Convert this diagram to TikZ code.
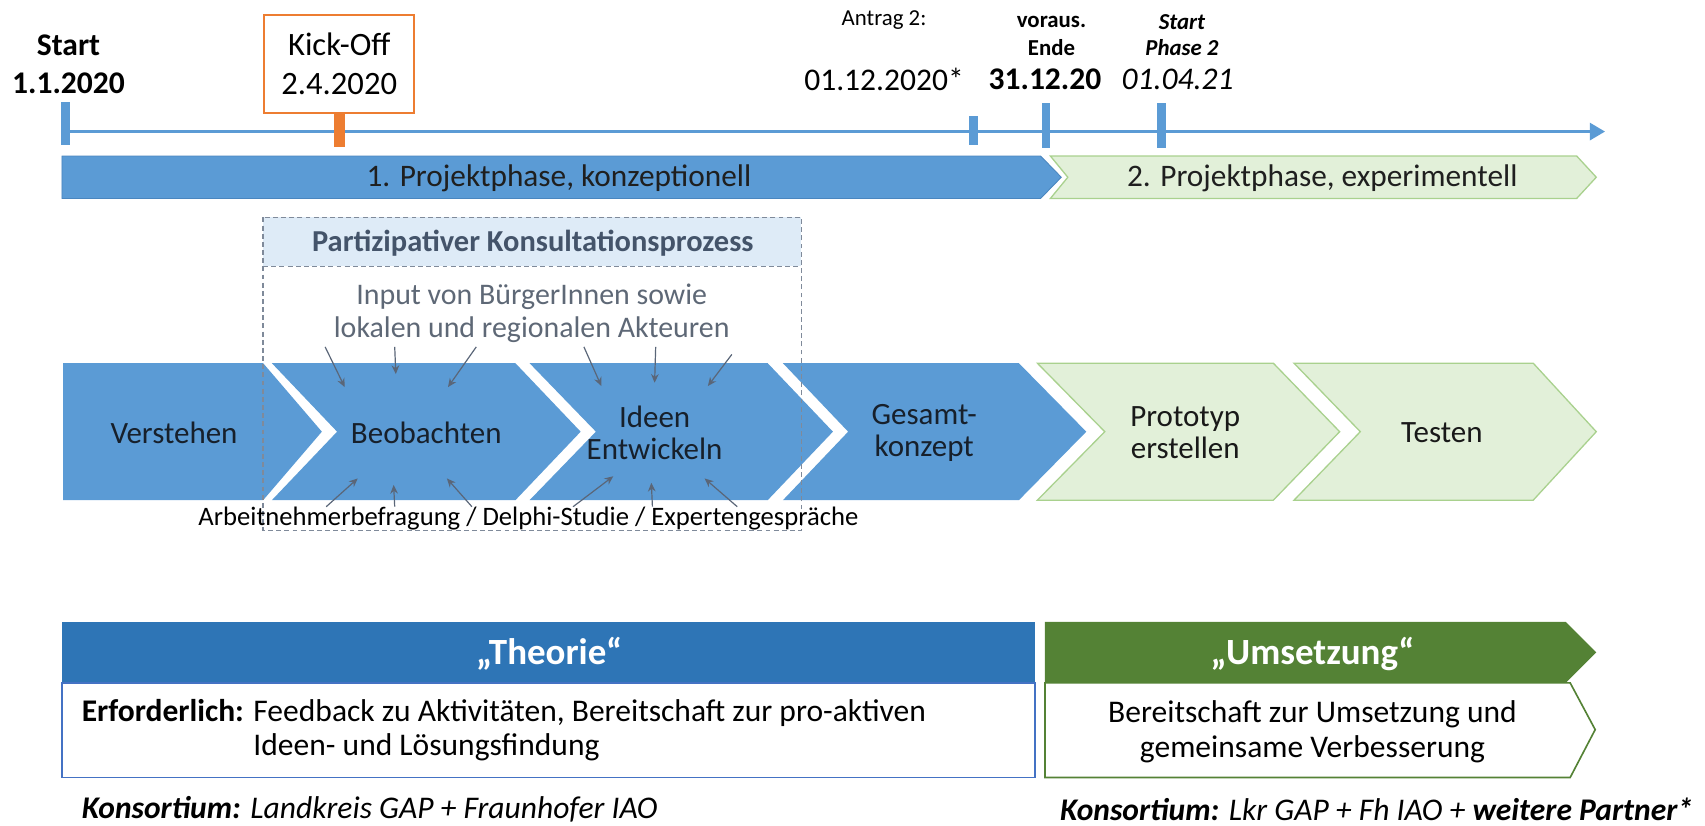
\documentclass[tikz,border=0pt]{standalone}
\usepackage{fontspec}
\setmainfont{Carlito}
\usetikzlibrary{arrows.meta}
\definecolor{tlblue}{HTML}{5B9BD5}
\definecolor{tlbluedark}{HTML}{4A86BF}
\definecolor{korange}{HTML}{ED7D31}
\definecolor{chevgreen}{HTML}{E2F0D9}
\definecolor{chevgreenline}{HTML}{A9D18E}
\definecolor{hdrblue}{HTML}{2E75B6}
\definecolor{bodyblue}{HTML}{4472C4}
\definecolor{hdrgreen}{HTML}{548235}
\definecolor{partfill}{HTML}{DEEBF7}
\definecolor{parttext}{HTML}{44546A}
\definecolor{graytext}{HTML}{5E6876}
\definecolor{arrowgray}{HTML}{5A6678}
\definecolor{dashgray}{HTML}{7F8A9A}
\definecolor{labeltext}{HTML}{17202B}
\tikzset{
  txt/.style={inner sep=0pt, align=center, text=black},
  big/.style={font=\fontsize{29}{35}\selectfont},
  small/.style={font=\fontsize{21}{25}\selectfont},
  tickmark/.style={fill=tlblue, inner sep=0pt, minimum width=8pt},
  phaseA/.style={fill=tlblue, draw=tlbluedark, line width=0.8pt},
  phaseB/.style={fill=chevgreen, draw=chevgreenline, line width=1.2pt},
  chevA/.style={fill=tlblue, draw=none},
  chevB/.style={fill=chevgreen, draw=chevgreenline, line width=1.2pt},
  chevlabel/.style={txt, text=labeltext, font=\fontsize{28.5}{30}\selectfont},
  inarrow/.style={draw=arrowgray, line width=1.1pt, -{Stealth[length=8pt,width=7pt]}},
  dashbox/.style={draw=dashgray, line width=1.2pt, dash pattern=on 4.5pt off 3pt},
}
\begin{document}
\begin{tikzpicture}[x=1pt,y=-1pt]
\useasboundingbox (0,0) rectangle (1568,759);

% ---------- timeline ----------
\coordinate (tlstart) at (64,121);
\coordinate (tlend) at (1476,121);
\draw[tlblue, line width=2pt, -{Triangle[length=14pt,width=16pt]}] (tlstart) -- (tlend);

\node[tickmark, minimum height=39pt] (tstart) at (60,113.5) {};
\node[txt, font=\fontsize{29}{35}\selectfont\bfseries] (lstart) at (63,59) {Start\\1.1.2020};

\node[draw=korange, line width=1.5pt, fill=white, minimum width=138pt, minimum height=90pt, align=center, inner sep=0pt, font=\fontsize{30}{35}\selectfont] (kick) at (312,59) {Kick-Off\\[1pt]2.4.2020};
\node[fill=korange, minimum width=10pt, minimum height=30pt, inner sep=0pt, anchor=north] (ktick) at (kick.south) {};

\node[txt, small] (antrag) at (813,18) {Antrag 2:};
\node[txt, big] (dantrag) at (813,73) {01.12.2020*};
\node[tickmark, minimum height=26pt] (tantrag) at (895,120) {};

\node[txt, font=\fontsize{21}{25}\selectfont\bfseries] (ende) at (967,33) {voraus.\\Ende};
\node[txt, font=\fontsize{29}{35}\selectfont\bfseries] (dende) at (961,73) {31.12.20};
\node[tickmark, minimum height=41pt] (tende) at (962,115.5) {};

\node[txt, font=\fontsize{21}{24}\selectfont\bfseries\itshape] (sp2) at (1087,32) {Start\\Phase 2};
\node[txt, font=\fontsize{29}{35}\selectfont\itshape] (dsp2) at (1083,73) {01.04.21};
\node[tickmark, minimum height=41pt] (tsp2) at (1068,115.5) {};

% ---------- phase bars ----------
\path[phaseA] (57,143.5) -- (957,143.5) -- (976,163) -- (957,182.5) -- (57,182.5) -- cycle;
\path[phaseB] (966,143.5) -- (1450,143.5) -- (1468,163) -- (1450,182.5) -- (966,182.5) -- (982,163) -- cycle;
\node[txt, text=black!88, font=\fontsize{28.8}{30}\selectfont] (ph1) at (514,164) {1. Projektphase, konzeptionell};
\node[txt, text=black!88, font=\fontsize{28.8}{30}\selectfont] (ph2) at (1216,164) {2. Projektphase, experimentell};

% ---------- participation header ----------
\fill[partfill] (242,200) rectangle (737,245);

% ---------- chevrons ----------
\path[chevA] (58,334) -- (242,334) -- (296,397) -- (242,460) -- (58,460) -- cycle;
\path[chevA] (250,334) -- (474,334) -- (534,397) -- (474,460) -- (250,460) -- (310,397) -- cycle;
\path[chevA] (487,334) -- (706,334) -- (766,397) -- (706,460) -- (487,460) -- (548,397) -- cycle;
\path[chevA] (720,334) -- (937,334) -- (999,397) -- (937,460) -- (720,460) -- (780,397) -- cycle;
\path[chevB] (954,334) -- (1171,334) -- (1232,397) -- (1171,460) -- (954,460) -- (1016,397) -- cycle;
\path[chevB] (1190,334) -- (1410,334) -- (1468,397) -- (1410,460) -- (1190,460) -- (1251,397) -- cycle;

\node[chevlabel] (verstehen) at (160,398) {Verstehen};
\node[chevlabel] (beob) at (392,398) {Beobachten};
\node[chevlabel] (ideen) at (602,398) {Ideen\\Entwickeln};
\node[chevlabel] (gesamt) at (850,398) {Gesamt-\\konzept};
\node[chevlabel, text=black!90] (proto) at (1090,398) {Prototyp\\erstellen};
\node[chevlabel, text=black!90] (testen) at (1326,398) {Testen};

% ---------- dashed box ----------
\draw[dashbox] (242,200) rectangle (737,488);
\draw[dashbox] (242,245) -- (737,245);
\node[txt, text=parttext, font=\fontsize{28}{30}\selectfont\bfseries] (part) at (490,224) {Partizipativer Konsultationsprozess};
\node[txt, text=graytext, font=\fontsize{27.5}{30}\selectfont] (input) at (489,288) {Input von BürgerInnen sowie\\lokalen und regionalen Akteuren};
\node[txt, font=\fontsize{24.5}{26}\selectfont] (arbeit) at (486,477) {Arbeitnehmerbefragung / Delphi-Studie / Expertengespräche};

% ---------- small arrows ----------
\coordinate (u1s) at (299,319); \coordinate (u1e) at (317,356);
\coordinate (u2s) at (363,319); \coordinate (u2e) at (364,344);
\coordinate (u3s) at (438,319); \coordinate (u3e) at (412,356);
\coordinate (u4s) at (537,319); \coordinate (u4e) at (553,355);
\coordinate (u5s) at (603,319); \coordinate (u5e) at (602,352);
\coordinate (u6s) at (673,326); \coordinate (u6e) at (651,355);
\foreach \i in {1,...,6} {\draw[inarrow] (u\i s) -- (u\i e);}
\coordinate (d1s) at (300,466); \coordinate (d1e) at (329,440);
\coordinate (d2s) at (363,466); \coordinate (d2e) at (362,446);
\coordinate (d3s) at (434,466); \coordinate (d3e) at (411,440);
\coordinate (d4s) at (527,466); \coordinate (d4e) at (564,438);
\coordinate (d5s) at (600,466); \coordinate (d5e) at (599,444);
\coordinate (d6s) at (678,466); \coordinate (d6e) at (648,440);
\foreach \i in {1,...,6} {\draw[inarrow] (d\i s) -- (d\i e);}

% ---------- Theorie ----------
\fill[hdrblue] (57,572) rectangle (952,628);
\draw[bodyblue, line width=1.5pt, fill=white] (57,628) rectangle (952,715);
\node[txt, text=white, font=\fontsize{34}{36}\selectfont\bfseries] (theorie) at (505,601) {„Theorie“};
\node[txt, anchor=north west, font=\fontsize{29}{31}\selectfont, align=left] (erf) at (75,642)
  {\begin{tabular}{@{}l@{ }l@{}}\textbf{Erforderlich:} & Feedback zu Aktivitäten, Bereitschaft zur pro-aktiven\\ & Ideen- und Lösungsfindung\end{tabular}};
\node[txt, anchor=west, font=\fontsize{29}{31}\selectfont\itshape] (kons1) at (75,744) {\textbf{Konsortium:} Landkreis GAP + Fraunhofer IAO};

% ---------- Umsetzung ----------
\fill[hdrgreen] (961,572) -- (1440,572) -- (1468,600) -- (1440,628) -- (961,628) -- cycle;
\draw[hdrgreen, line width=1.5pt, fill=white] (961,628) -- (1444,628) -- (1467,671) -- (1444,715) -- (961,715) -- cycle;
\node[txt, text=white, font=\fontsize{34}{36}\selectfont\bfseries] (umsetz) at (1207,601) {„Umsetzung“};
\node[txt, font=\fontsize{29}{33}\selectfont] (bereit) at (1207,673) {Bereitschaft zur Umsetzung und\\gemeinsame Verbesserung};
\node[txt, font=\fontsize{29}{31}\selectfont\itshape] (kons2) at (1266,744) {\textbf{Konsortium:} Lkr GAP + Fh IAO + \textbf{weitere Partner*}};
\end{tikzpicture}
\end{document}
